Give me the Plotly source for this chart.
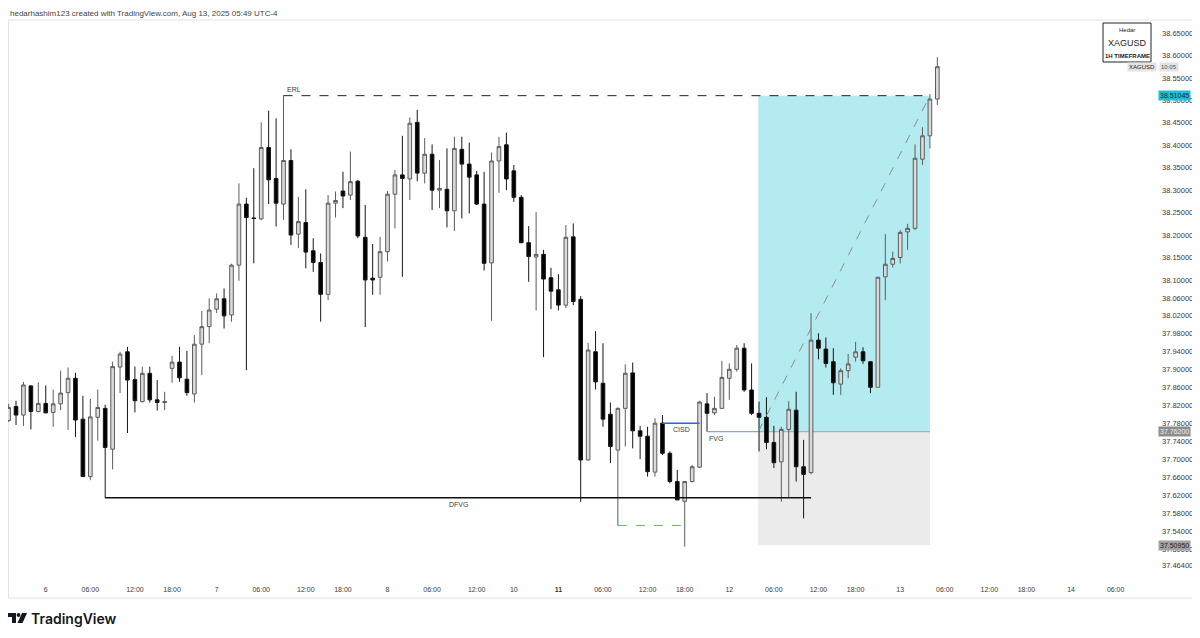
import plotly.graph_objects as go

# XAGUSD 1H candles, Aug 5 19:00 -> Aug 13 05:00 (UTC-4)
open_ = [
    37.787, 37.818, 37.799, 37.864, 37.807, 37.825, 37.805, 37.824, 37.849, 37.881,
    37.790, 37.662, 37.794, 37.814, 37.723, 37.906, 37.940, 37.878, 37.829, 37.892,
    37.833, 37.827, 37.903, 37.917, 37.879, 37.846, 37.957, 37.996, 38.035, 38.058,
    38.022, 38.133, 38.269, 38.238, 38.236, 38.395, 38.326, 38.269, 38.366, 38.202,
    38.228, 38.165, 38.139, 38.068, 38.271, 38.298, 38.289, 38.320, 38.195, 38.104,
    38.106, 38.163, 38.291, 38.334, 38.325, 38.451, 38.338, 38.380, 38.300, 38.302,
    38.254, 38.391, 38.358, 38.334, 38.269, 38.138, 38.365, 38.401, 38.343, 38.284,
    38.183, 38.151, 38.157, 38.105, 38.078, 38.044, 38.196, 38.057, 37.699, 37.940,
    37.870, 37.801, 37.721, 37.814, 37.893, 37.764, 37.752, 37.672, 37.781, 37.714,
    37.651, 37.607, 37.651, 37.683, 37.824, 37.804, 37.814, 37.881, 37.901, 37.948,
    37.855, 37.803, 37.794, 37.738, 37.695, 37.767, 37.810, 37.684, 37.671, 37.966,
    37.946, 37.918, 37.868, 37.898, 37.928, 37.940, 37.918, 37.861, 38.107, 38.135,
    38.150, 38.207, 38.215, 38.369, 38.421, 38.503,
]
high = [
    37.824, 37.831, 37.873, 37.866, 37.872, 37.865, 37.856, 37.898, 37.905, 37.893,
    37.842, 37.835, 37.856, 37.822, 37.918, 37.940, 37.951, 37.907, 37.907, 37.907,
    37.877, 37.851, 37.931, 37.951, 37.942, 37.977, 38.031, 38.059, 38.070, 38.081,
    38.136, 38.315, 38.283, 38.349, 38.451, 38.477, 38.460, 38.5105, 38.391, 38.285,
    38.302, 38.193, 38.159, 38.289, 38.297, 38.341, 38.386, 38.323, 38.267, 38.180,
    38.196, 38.298, 38.345, 38.421, 38.462, 38.479, 38.416, 38.402, 38.367, 38.393,
    38.419, 38.419, 38.406, 38.343, 38.341, 38.384, 38.419, 38.428, 38.356, 38.289,
    38.220, 38.251, 38.167, 38.127, 38.113, 38.222, 38.226, 38.064, 37.960, 37.986,
    37.959, 37.827, 37.816, 37.912, 37.916, 37.775, 37.773, 37.792, 37.799, 37.718,
    37.677, 37.651, 37.688, 37.831, 37.848, 37.840, 37.920, 37.914, 37.955, 37.959,
    37.914, 37.829, 37.839, 37.775, 37.773, 37.830, 37.851, 37.744, 38.026, 37.981,
    37.972, 37.948, 37.903, 37.935, 37.962, 37.950, 37.918, 38.106, 38.202, 38.163,
    38.211, 38.225, 38.402, 38.440, 38.514, 38.596,
]
low = [
    37.784, 37.777, 37.775, 37.767, 37.805, 37.803, 37.773, 37.810, 37.766, 37.750,
    37.662, 37.654, 37.742, 37.614, 37.678, 37.848, 37.759, 37.805, 37.827, 37.827,
    37.809, 37.810, 37.871, 37.873, 37.842, 37.827, 37.888, 37.959, 38.026, 37.992,
    38.007, 38.098, 37.899, 38.137, 38.233, 38.269, 38.219, 38.234, 38.178, 38.171,
    38.126, 38.118, 38.007, 38.055, 38.239, 38.260, 38.278, 38.193, 37.995, 38.067,
    38.067, 38.141, 38.215, 38.107, 38.278, 38.320, 38.315, 38.256, 38.260, 38.217,
    38.209, 38.237, 38.248, 38.267, 38.121, 38.009, 38.294, 38.300, 38.274, 38.182,
    38.096, 38.032, 37.928, 38.035, 38.032, 38.037, 38.044, 37.606, 37.698, 37.856,
    37.773, 37.692, 37.553, 37.729, 37.725, 37.701, 37.662, 37.662, 37.710, 37.647,
    37.610, 37.506, 37.649, 37.681, 37.762, 37.799, 37.813, 37.833, 37.896, 37.851,
    37.799, 37.718, 37.723, 37.681, 37.606, 37.614, 37.651, 37.569, 37.667, 37.923,
    37.905, 37.844, 37.844, 37.881, 37.918, 37.913, 37.848, 37.861, 38.055, 38.128,
    38.137, 38.167, 38.211, 38.356, 38.393, 38.490,
]
close = [
    37.816, 37.799, 37.866, 37.807, 37.825, 37.804, 37.824, 37.848, 37.881, 37.788,
    37.662, 37.795, 37.816, 37.727, 37.907, 37.935, 37.877, 37.831, 37.892, 37.833,
    37.827, 37.829, 37.917, 37.882, 37.849, 37.957, 37.996, 38.033, 38.058, 38.020,
    38.133, 38.269, 38.239, 38.237, 38.395, 38.323, 38.271, 38.366, 38.200, 38.230,
    38.162, 38.139, 38.068, 38.271, 38.277, 38.287, 38.319, 38.198, 38.100, 38.100,
    38.163, 38.291, 38.334, 38.326, 38.449, 38.338, 38.380, 38.300, 38.304, 38.254,
    38.393, 38.358, 38.329, 38.269, 38.137, 38.365, 38.397, 38.325, 38.284, 38.183,
    38.152, 38.157, 38.102, 38.075, 38.044, 38.195, 38.052, 37.699, 37.944, 37.873,
    37.790, 37.729, 37.814, 37.892, 37.764, 37.752, 37.673, 37.781, 37.714, 37.651,
    37.610, 37.651, 37.684, 37.828, 37.803, 37.814, 37.883, 37.901, 37.948, 37.855,
    37.803, 37.794, 37.738, 37.693, 37.767, 37.812, 37.684, 37.667, 37.966, 37.948,
    37.914, 37.871, 37.898, 37.913, 37.940, 37.920, 37.861, 38.106, 38.135, 38.148,
    38.206, 38.215, 38.371, 38.421, 38.503, 38.575,
]

# time axis labels (bar index -> label)
tick_bar = [5, 11, 17, 22, 28, 34, 40, 45, 51, 57, 63, 68, 74, 80, 86, 91,
            97, 103, 109, 114, 120, 126, 132, 137, 143, 149]
tick_text = ["6", "06:00", "12:00", "18:00", "7", "06:00", "12:00", "18:00",
             "8", "06:00", "12:00", "10", "<b>11</b>", "06:00", "12:00", "18:00",
             "12", "06:00", "12:00", "18:00", "13", "06:00", "12:00", "18:00",
             "14", "06:00"]

price_ticks = [38.65, 38.60, 38.55, 38.50, 38.45, 38.40, 38.35, 38.30, 38.25,
               38.20, 38.15, 38.10, 38.06, 38.02, 37.98, 37.94, 37.90, 37.86,
               37.82, 37.78, 37.74, 37.70, 37.66, 37.62, 37.58, 37.54, 37.50,
               37.464]

# drawn levels
erl_level, erl_start = 38.51045, 37
dfvg_level, dfvg_start, dfvg_end = 37.615, 13, 108
cisd_level, cisd_start, cisd_end = 37.781, 88, 93
fvg_level, fvg_start = 37.762, 94
sweep_level, sweep_start, sweep_end = 37.553, 82, 91

# long position tool
pos_start, pos_end = 100.9, 124.0
entry, target, stop = 37.762, 38.51045, 37.5095

bars = list(range(len(close)))

# the page adds an 8px body margin, so the figure is 8px smaller on each side
BODY = 8
W, H = 1200 - BODY, 638 - BODY
# plot area in screen pixels
SL, SR, ST, SB = 8, 1158, 20, 580


def px(x):
    return (x - SL) / (SR - SL)


def py(y):
    return (SB - y) / (SB - ST)


FONT = "Liberation Sans"
TXT = "#3b3b3b"

fig = go.Figure()
fig.add_trace(
    go.Candlestick(
        x=bars,
        open=open_,
        high=high,
        low=low,
        close=close,
        increasing=dict(line=dict(color="#5c5c5c", width=1), fillcolor="#dadada"),
        decreasing=dict(line=dict(color="#161616", width=1), fillcolor="#000000"),
        hoverinfo="skip",
        showlegend=False,
    )
)

shapes = []
# position tool boxes
shapes.append(dict(type="rect", xref="x", yref="y", x0=pos_start, x1=pos_end,
                   y0=entry, y1=target, fillcolor="#b4ebf1", line_width=0, layer="below"))
shapes.append(dict(type="rect", xref="x", yref="y", x0=pos_start, x1=pos_end,
                   y0=stop, y1=entry, fillcolor="#ebebeb", line_width=0, layer="below"))
shapes.append(dict(type="line", xref="x", yref="y", x0=pos_start, x1=pos_end,
                   y0=entry, y1=entry, line=dict(color="#a0a0a0", width=1), layer="below"))
shapes.append(dict(type="line", xref="x", yref="y", x0=pos_start, x1=pos_end,
                   y0=entry, y1=target, line=dict(color="#8c8c8c", width=1, dash="dash")))
# ERL
shapes.append(dict(type="line", xref="x", yref="y", x0=erl_start, x1=pos_end,
                   y0=erl_level, y1=erl_level, line=dict(color="#222222", width=1, dash="dash")))
# DFVG
shapes.append(dict(type="line", xref="x", yref="y", x0=dfvg_start, x1=dfvg_end,
                   y0=dfvg_level, y1=dfvg_level, line=dict(color="#111111", width=1.5)))
# CISD
shapes.append(dict(type="line", xref="x", yref="y", x0=cisd_start, x1=cisd_end,
                   y0=cisd_level, y1=cisd_level, line=dict(color="#2962ff", width=1.5)))
# FVG
shapes.append(dict(type="line", xref="x", yref="y", x0=fvg_start, x1=pos_start,
                   y0=fvg_level, y1=fvg_level, line=dict(color="#5b8def", width=1)))
# swept low
shapes.append(dict(type="line", xref="x", yref="y", x0=sweep_start, x1=sweep_end,
                   y0=sweep_level, y1=sweep_level, line=dict(color="#6f9cf5", width=1, dash="dash")))

# chart frame
shapes.append(dict(type="rect", xref="paper", yref="paper", x0=px(8.5), x1=px(1193),
                   y0=py(598), y1=py(20), line=dict(color="#e0e3eb", width=1), layer="below"))
# title card
shapes.append(dict(type="rect", xref="paper", yref="paper", x0=px(1103), x1=px(1151),
                   y0=py(62), y1=py(23), fillcolor="#ffffff", line=dict(color="#222222", width=1)))

# TradingView logo
shapes.append(dict(type="path", xref="paper", yref="paper", fillcolor="#131722", line_width=0,
                   path=f"M {px(8)} {py(613)} L {px(16)} {py(613)} L {px(16)} {py(623)} "
                        f"L {px(12)} {py(623)} L {px(12)} {py(617)} L {px(8)} {py(617)} Z"))
shapes.append(dict(type="circle", xref="paper", yref="paper", fillcolor="#131722", line_width=0,
                   x0=px(16.6), x1=px(20.4), y0=py(616.9), y1=py(613.1)))
shapes.append(dict(type="path", xref="paper", yref="paper", fillcolor="#131722", line_width=0,
                   path=f"M {px(22)} {py(613)} L {px(27)} {py(613)} L {px(22.5)} {py(623)} "
                        f"L {px(17.5)} {py(623)} Z"))


def note(text, x, y, size=7, color=TXT, xanchor="center", **kw):
    return dict(text=text, xref="paper", yref="paper", x=x, y=y, xanchor=xanchor,
                yanchor="middle", showarrow=False,
                font=dict(family=FONT, size=size, color=color), **kw)


small = dict(family=FONT, size=7, color=TXT)
annotations = [
    note("hedarhashim123 created with TradingView.com, Aug 13, 2025 05:49 UTC-4",
         px(8), py(13), size=8, color="#444444", xanchor="left"),
    dict(text="TradingView", xref="paper", yref="paper", x=px(29), y=py(618),
         xanchor="left", yanchor="middle", showarrow=False,
         font=dict(family="Inter", size=14, color="#131722", weight=600)),
    dict(text="ERL", xref="x", yref="y", x=erl_start, y=erl_level, xanchor="left",
         yanchor="bottom", xshift=1, yshift=1, showarrow=False, font=small),
    dict(text="CISD", xref="x", yref="y", x=(cisd_start + cisd_end) / 2, y=cisd_level,
         xanchor="center", yanchor="top", yshift=-1, showarrow=False, font=small),
    dict(text="FVG", xref="x", yref="y", x=fvg_start, y=fvg_level, xanchor="left",
         yanchor="top", yshift=-1, showarrow=False, font=small),
    dict(text="DFVG", xref="x", yref="y", x=(dfvg_start + dfvg_end) / 2, y=dfvg_level,
         xanchor="center", yanchor="top", yshift=-1, showarrow=False, font=small),
    # title card text
    note("Hedar", px(1127), py(30), size=6, color="#222222"),
    note("XAGUSD", px(1127), py(43), size=9, color="#222222"),
    note("<b>1H TIMEFRAME</b>", px(1127), py(56), size=6, color="#222222"),
    # symbol / countdown tags
    note("XAGUSD", px(1157), py(67), size=6, color="#222222", xanchor="right",
         bgcolor="#e3e3e3", borderpad=1),
    note("10:05", px(1159), py(67), size=6, color="#555555", xanchor="left",
         bgcolor="#e3e3e3", borderpad=1),
    # price scale tags
    dict(text=f"{target:.5f}", xref="paper", yref="y", x=1, y=target, xanchor="left",
         showarrow=False, bgcolor="#1fbfd6", borderpad=1, font=dict(family=FONT, size=7, color="#0d2a33")),
    dict(text=f"{entry:.5f}", xref="paper", yref="y", x=1, y=entry, xanchor="left",
         showarrow=False, bgcolor="#8d8d8d", borderpad=1, font=dict(family=FONT, size=7, color="#f2f2f2")),
    dict(text=f"{stop:.5f}", xref="paper", yref="y", x=1, y=stop, xanchor="left",
         showarrow=False, bgcolor="#a3a3a3", borderpad=1, font=dict(family=FONT, size=7, color="#1e1e1e")),
]

fig.update_layout(
    width=W,
    height=H,
    margin=dict(l=SL - BODY, r=W - (SR - BODY), t=ST - BODY, b=H - (SB - BODY)),
    paper_bgcolor="#ffffff",
    plot_bgcolor="#ffffff",
    shapes=shapes,
    annotations=annotations,
    showlegend=False,
    hovermode=False,
    xaxis=dict(
        range=[-0.081, 154.7],
        rangeslider=dict(visible=False),
        showgrid=False,
        zeroline=False,
        showline=False,
        tickmode="array",
        tickvals=tick_bar,
        ticktext=tick_text,
        ticks="",
        ticklabelstandoff=4,
        tickfont=dict(family=FONT, size=7, color=TXT),
    ),
    yaxis=dict(
        range=[37.4317, 38.679],
        side="right",
        showgrid=False,
        zeroline=False,
        showline=False,
        tickmode="array",
        tickvals=price_ticks,
        ticktext=[f"{v:.5f}" for v in price_ticks],
        ticks="",
        ticklabelstandoff=3,
        tickfont=dict(family=FONT, size=7.5, color=TXT),
    ),
)

fig.write_html("out.html")
